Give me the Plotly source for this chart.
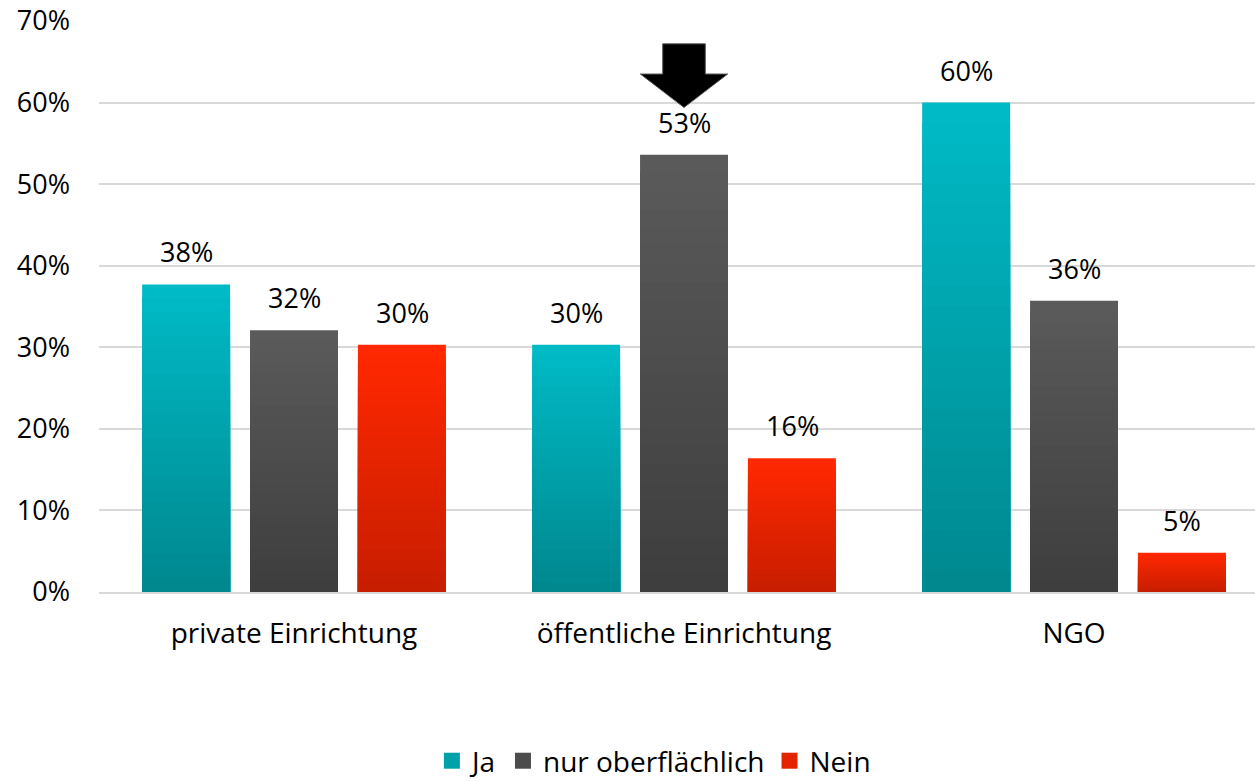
import plotly.graph_objects as go

categories = ["private Einrichtung", "öffentliche Einrichtung", "NGO"]
series_names = ["Ja", "nur oberflächlich", "Nein"]
ja = [37.7, 30.3, 60.0]
oberflaechlich = [32.1, 53.6, 35.7]
nein = [30.3, 16.4, 4.8]
labels_ja = ["38%", "30%", "60%"]
labels_ober = ["32%", "53%", "36%"]
labels_nein = ["30%", "16%", "5%"]
y_ticks = [0, 10, 20, 30, 40, 50, 60, 70]

series_values = [ja, oberflaechlich, nein]
series_labels = [labels_ja, labels_ober, labels_nein]
top_colors = [(0, 186, 198), (90, 90, 90), (255, 40, 0)]
bottom_colors = [(0, 136, 143), (62, 62, 62), (200, 30, 0)]

FONT = "Open Sans"
N = 24

def mix(c1, c2, t):
    return "rgb(%d,%d,%d)" % tuple(round(a + (b - a) * t) for a, b in zip(c1, c2))

fig = go.Figure()
for s, (name, vals) in enumerate(zip(series_names, series_values)):
    for j in range(N):
        frac = (N - j) / N
        fig.add_trace(go.Bar(
            x=categories,
            y=[v * frac for v in vals],
            name=name,
            offsetgroup=str(s),
            legendgroup=name,
            showlegend=False,
            marker=dict(color=mix(top_colors[s], bottom_colors[s], j / (N - 1)), line=dict(width=0)),
            hoverinfo="skip" if j else None,
        ))

# legend entries with larger square symbols
for s, name in enumerate(series_names):
    fig.add_trace(go.Scatter(
        x=[None], y=[None], mode="markers", name=name, legendgroup=name,
        marker=dict(symbol="square", size=16,
                    color=mix(top_colors[s], bottom_colors[s], 0.5)),
        showlegend=True,
    ))

# data labels above the bars
slot_px = 108
for s, (vals, labs) in enumerate(zip(series_values, series_labels)):
    for cat, v, lab in zip(categories, vals, labs):
        fig.add_annotation(
            x=cat, y=v, xref="x", yref="y", text=lab, showarrow=False,
            xshift=(s - 1) * slot_px, yanchor="bottom", yshift=12,
            font=dict(family=FONT, size=27, color="#000000"),
        )

# arrow pointing to the 53% bar
fig.add_shape(
    type="path",
    xref="x", yref="y",
    path="M 0.9454,67.2 L 1.0546,67.2 L 1.0546,63.5 L 1.112,63.5 L 1.0,59.4 L 0.888,63.5 L 0.9454,63.5 Z",
    fillcolor="#000000",
    line=dict(color="#555555", width=1),
    layer="above",
)

fig.update_layout(
    width=1255, height=782,
    paper_bgcolor="white", plot_bgcolor="white",
    barmode="group",
    bargap=0.17, bargroupgap=0.185,
    margin=dict(l=99, r=0, t=21, b=190, autoexpand=False),
    font=dict(family=FONT, size=28, color="#000000"),
    showlegend=True,
    legend=dict(orientation="h", x=0.48, xanchor="center", y=-0.296, yanchor="middle",
                font=dict(family=FONT, size=28, color="#000000"), itemwidth=30,
                traceorder="normal", itemsizing="trace"),
)
fig.update_xaxes(range=[-0.5, 2.464], showgrid=False, showline=True, linecolor="#d9d9d9", linewidth=1.5,
                 ticks="", tickfont=dict(family=FONT, size=28), ticklabelstandoff=16, automargin=False)
fig.update_yaxes(range=[0, 70], tickvals=y_ticks, ticktext=["%d%%" % t for t in y_ticks],
                 showgrid=True, gridcolor="#d9d9d9", gridwidth=1.5, zeroline=False,
                 ticks="", tickfont=dict(family=FONT, size=27), ticklabelstandoff=28, automargin=False)

fig.write_html("out.html", config={"displayModeBar": False},
               post_script="document.body.style.margin='0';document.body.style.overflow='hidden';")
